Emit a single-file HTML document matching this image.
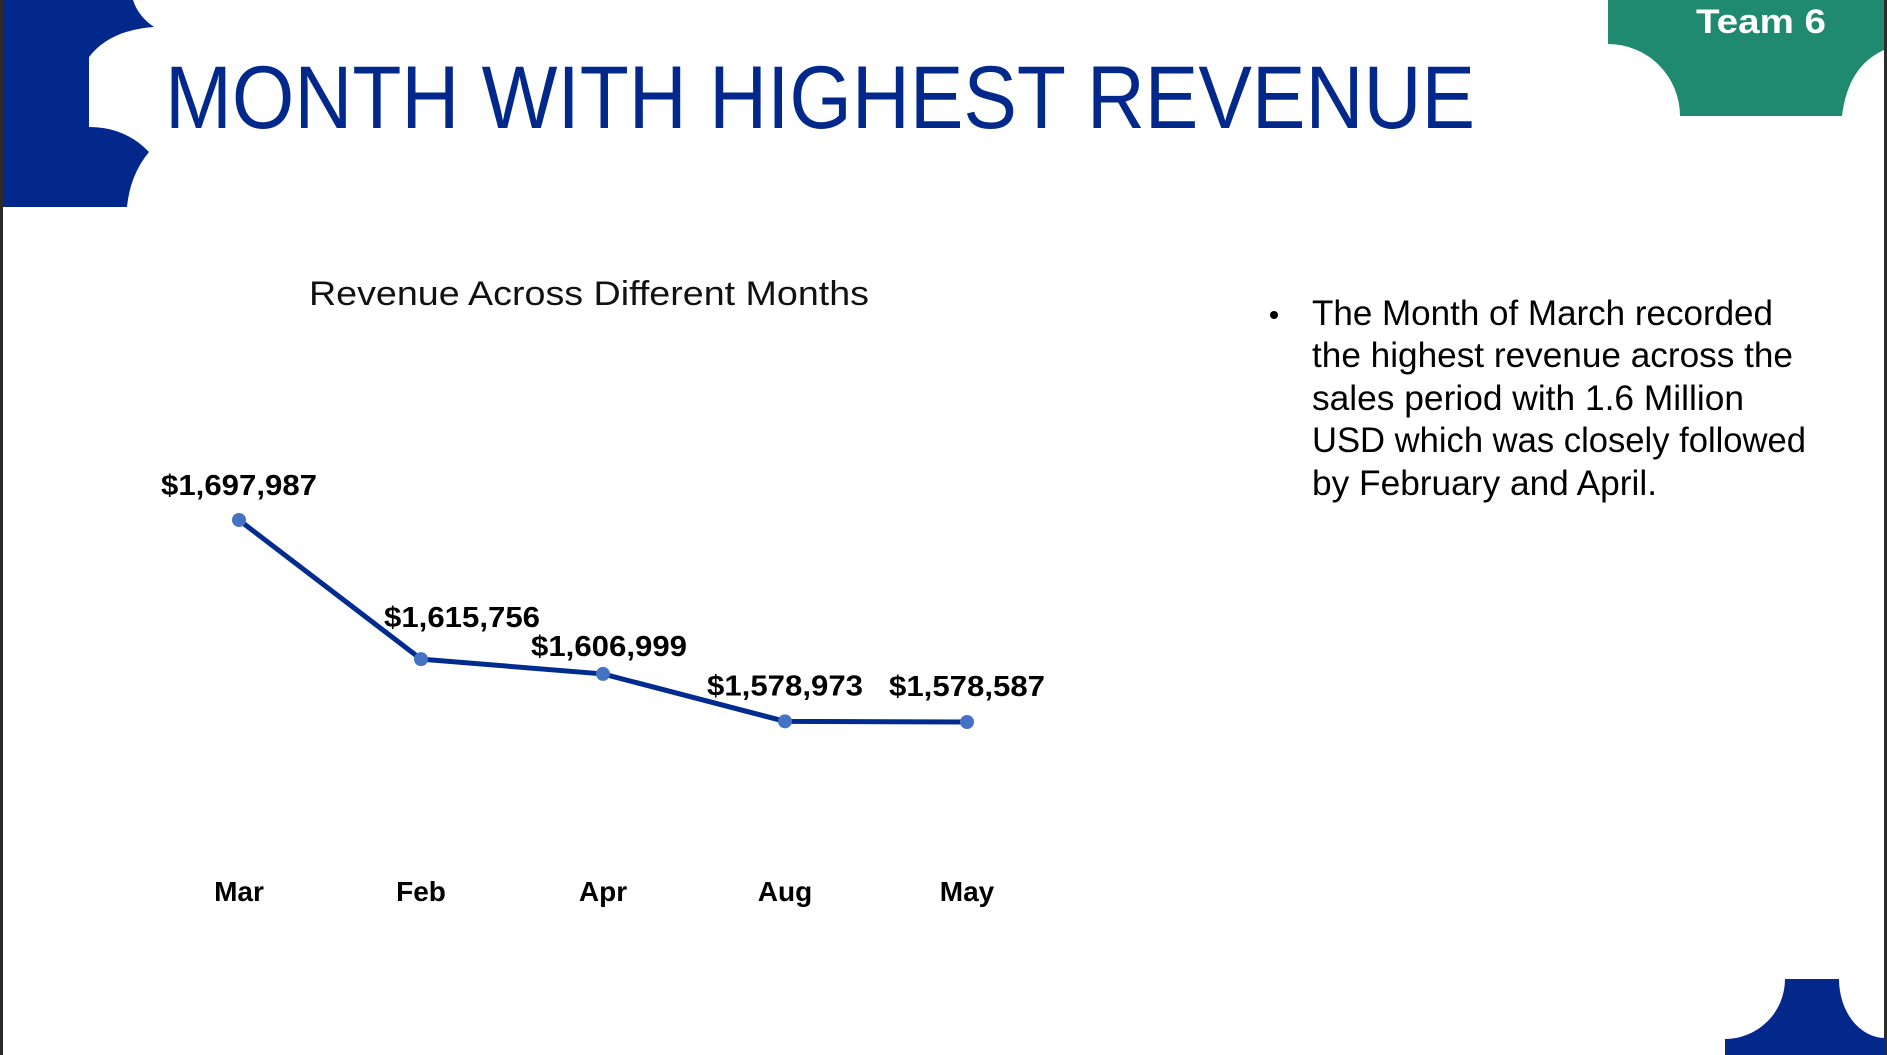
<!DOCTYPE html>
<html><head><meta charset="utf-8"><style>
html,body{margin:0;padding:0;background:#fff}
svg{display:block}
text{font-family:"Liberation Sans",sans-serif}
</style></head><body>
<svg width="1887" height="1055" viewBox="0 0 1887 1055">
<rect x="0" y="0" width="3" height="1055" fill="#2b2b2b"/>
<rect x="1884" y="0" width="3" height="1055" fill="#2b2b2b"/>
<path fill="#02288c"
 d="M3,0 L133,0 Q138,16 154,27 Q110,30 89,57 L89,127 Q125,127 149,152 Q130,175 127,207 L3,207 Z"/>
<path fill="#1f8a70"
 d="M1608,0 L1884,0 L1884,50 Q1848,66 1842,116 L1680,116 A72,72 0 0 0 1608,44 Z"/>
<text x="1761" y="33" text-anchor="middle" font-size="34" font-weight="bold" fill="#fff" textLength="130" lengthAdjust="spacingAndGlyphs">Team 6</text>
<path fill="#02288c"
 d="M1725,1055 L1725,1039 A60,60 0 0 0 1785,979 L1839,979 A46,59 0 0 0 1885,1038 L1885,1055 Z"/>
<text x="165" y="128" font-size="89" fill="#02288c" textLength="1310" lengthAdjust="spacingAndGlyphs">MONTH WITH HIGHEST REVENUE</text>
<text x="309" y="305" font-size="34" fill="#111" textLength="560" lengthAdjust="spacingAndGlyphs">Revenue Across Different Months</text>
<g id="chart"></g>
<g font-size="35" fill="#000">
<circle cx="1274" cy="315" r="4" fill="#000"/>
<text x="1312" y="325" textLength="461" lengthAdjust="spacingAndGlyphs">The Month of March recorded</text>
<text x="1312" y="367" textLength="481" lengthAdjust="spacingAndGlyphs">the highest revenue across the</text>
<text x="1312" y="410" textLength="432" lengthAdjust="spacingAndGlyphs">sales period with 1.6 Million</text>
<text x="1312" y="452" textLength="494" lengthAdjust="spacingAndGlyphs">USD which was closely followed</text>
<text x="1312" y="495" textLength="345" lengthAdjust="spacingAndGlyphs">by February and April.</text>
</g>
</svg>
<script>
const months = ["Mar","Feb","Apr","Aug","May"];
const revenue = [1697987,1615756,1606999,1578973,1578587];
const valueLabels = ["$1,697,987","$1,615,756","$1,606,999","$1,578,973","$1,578,587"];
const NS="http://www.w3.org/2000/svg";
const g=document.getElementById('chart');
function xPos(i){return 239+i*182;}
function yPos(v){return 520+(1697987-v)*(202/119400);}
function mk(t,a){const e=document.createElementNS(NS,t);for(const k in a)e.setAttribute(k,a[k]);g.appendChild(e);return e;}
const pts=revenue.map((v,i)=>xPos(i)+","+yPos(v)).join(" ");
const line=mk("polyline",{points:pts,fill:"none",stroke:"#002b8f","stroke-width":5,"stroke-linejoin":"round"});


const lblDx=[0,41,6,0,0], lblDy=[25,32,18,26,26];
revenue.forEach((v,i)=>{
  const c=mk("circle",{cx:xPos(i),cy:yPos(v),r:7,fill:"#4472c4"});
  
  
  const t=mk("text",{x:xPos(i)+lblDx[i],y:yPos(v)-lblDy[i],"text-anchor":"middle","font-size":29,"font-weight":"bold",fill:"#000",textLength:156,lengthAdjust:"spacingAndGlyphs"});
  t.textContent=valueLabels[i];
  
  
  const m=mk("text",{x:xPos(i),y:901,"text-anchor":"middle","font-size":28,"font-weight":"bold",fill:"#000"});
  m.textContent=months[i];
  
  
});
</script>
</body></html>
